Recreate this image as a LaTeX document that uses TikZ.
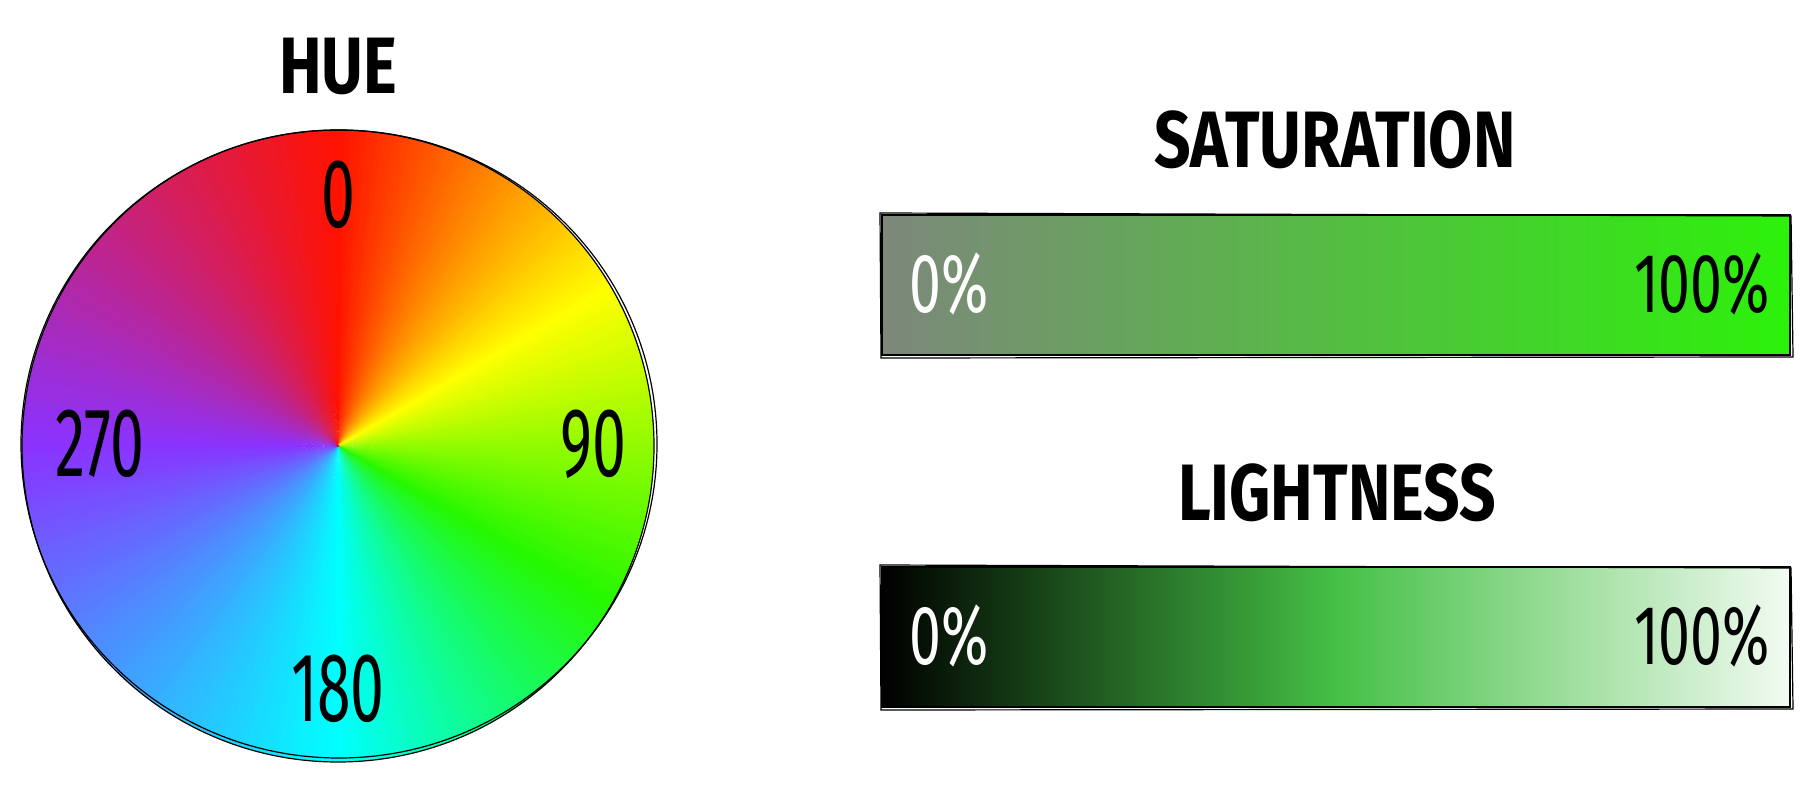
\documentclass[tikz,border=0pt]{standalone}
\usepackage{fontspec}
\setmainfont{Fira Sans}
\usepackage{tikz}
\usepackage{xcolor}
\definecolor{huered}{HTML}{FF1200}
\definecolor{hueyellow}{HTML}{FFFF00}
\definecolor{huelime}{HTML}{26F800}
\definecolor{huecyan}{HTML}{00FFFF}
\definecolor{hueviolet}{HTML}{8A33FF}
\definecolor{satlo}{HTML}{7D877B}
\definecolor{sathi}{HTML}{2CF20A}
\definecolor{lightlo}{HTML}{000000}
\definecolor{lightmid}{HTML}{45C045}
\definecolor{lighthi}{HTML}{F2FBF2}
\pgfdeclarehorizontalshading{lightshade}{100bp}{color(0bp)=(lightlo); color(25bp)=(lightlo); color(50bp)=(lightmid); color(75bp)=(lighthi); color(100bp)=(lighthi)}

\begin{document}
\begin{tikzpicture}[x=0.5pt,y=-0.5pt,line cap=round,
  title/.style={font=\fontsize{40}{44}\selectfont\bfseries,xscale=0.8},
  degree/.style={font=\fontsize{49}{52}\selectfont,xscale=0.62},
  percent/.style={font=\fontsize{42}{46}\selectfont,xscale=0.68},
  sketch/.style={black,line width=0.6pt}]
\useasboundingbox (0,0) rectangle (1808,785);
\coordinate (wheel) at (338,446);
\begin{scope}
\clip (wheel) circle[radius=316];
\foreach \ha/\hb/\ca/\cb in {0/60/huered/hueyellow,60/120/hueyellow/huelime,
    120/180/huelime/huecyan,180/270/huecyan/hueviolet,270/360/hueviolet/huered}{
  \foreach \h in {\ha,...,\hb}{
    \pgfmathtruncatemacro\p{100*(\h-\ha)/(\hb-\ha)}
    \colorlet{huefill}{\cb!\p!\ca}
    \fill[huefill] (wheel) +({\h+90}:1) -- +({\h-90.8}:330) -- +({\h-89.2}:330) -- cycle;
  }
}
\end{scope}
\draw[sketch] (wheel) circle[radius=316];
\draw[sketch] ([shift={(1,-2)}]wheel) ellipse[x radius=318,y radius=314];
\node[title] (hue title) at (338,66) {HUE};
\node[degree] (deg0) at (338,195) {0};
\node[degree] (deg90) at (593,444) {90};
\node[degree] (deg180) at (338,689) {180};
\node[degree] (deg270) at (100,444) {270};
% saturation
\shade[left color=satlo,right color=sathi] (882,215) rectangle (1790,355);
\draw[sketch] (882,215) rectangle (1790,355);
\draw[sketch] (880,213) -- (1791,216) -- (1793,357) -- (881,358) -- cycle;
\node[title] (sat title) at (1335,140) {SATURATION};
\node[percent,white] (sat low) at (949,284) {0\%};
\node[percent] (sat high) at (1702,284) {100\%};
% lightness
\shade[shading=lightshade] (882,567) rectangle (1790,707);
\draw[sketch] (882,567) rectangle (1790,707);
\draw[sketch] (880,565) -- (1791,568) -- (1793,709) -- (881,710) -- cycle;
\node[title] (light title) at (1337,493) {LIGHTNESS};
\node[percent,white] (light low) at (949,636) {0\%};
\node[percent] (light high) at (1702,636) {100\%};
\end{tikzpicture}
\end{document}
